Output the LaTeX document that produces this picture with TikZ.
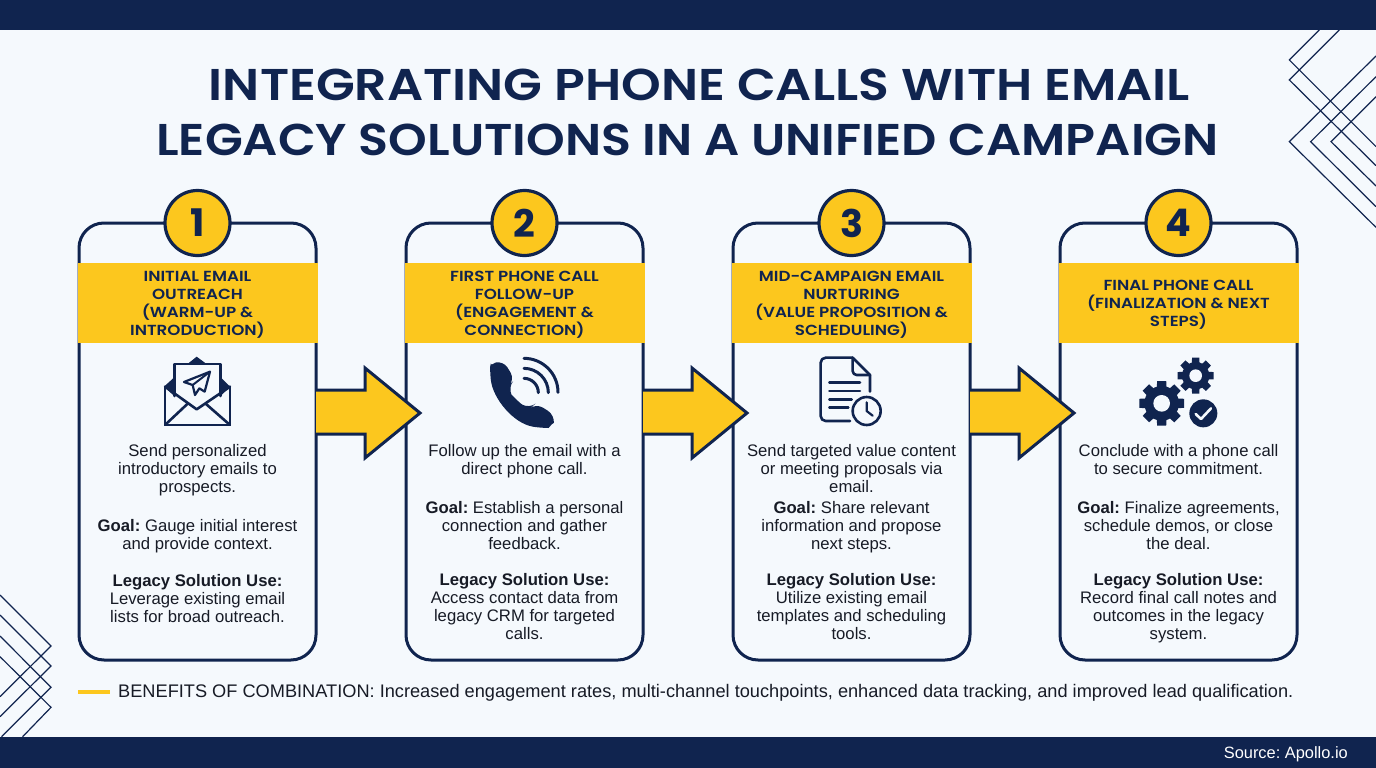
\documentclass[tikz,border=0pt]{standalone}
\usepackage{fontspec}
\usetikzlibrary{calc}
\setmainfont{Liberation Sans}
\newfontfamily\headfont[FakeStretch=1.145]{Poppins SemiBold}
\newfontfamily\badgefont{Poppins}
\newfontfamily\titlefonta[FakeStretch=1.135]{Poppins SemiBold}
\newfontfamily\titlefontb[FakeStretch=1.106]{Poppins SemiBold}
\definecolor{navy}{HTML}{10244F}
\definecolor{amber}{HTML}{FCC71E}
\definecolor{paper}{HTML}{F5F9FD}
\definecolor{ink}{HTML}{171B26}
\frenchspacing
\newcommand{\flowarrow}[2]{%
  \fill[amber] ($(#1.east)+(0,-51.5)$) -- ($(#1.east)+(49,-51.5)$) -- ($(#1.east)+(49,-73.5)$) -- ($(#2.west)+(14,-28.5)$) -- ($(#1.east)+(49,16.5)$) -- ($(#1.east)+(49,-7.5)$) -- ($(#1.east)+(0,-7.5)$) -- cycle;
  \draw[navy,line width=3,line join=miter] ($(#1.east)+(0,-51.5)$) -- ($(#1.east)+(49,-51.5)$) -- ($(#1.east)+(49,-73.5)$) -- ($(#2.west)+(14,-28.5)$) -- ($(#1.east)+(49,16.5)$) -- ($(#1.east)+(49,-7.5)$) -- ($(#1.east)+(0,-7.5)$);
}
\newcommand{\gearshape}[5]{% x,y,body r,tooth outer r,tooth width
  \fill[navy] (#1,#2) circle (#3);
  \foreach \a in {0,45,...,315}{
    \fill[navy,shift={(#1,#2)},rotate=\a] (-#5/2,0) -- (-#5/2*0.8,-#4) -- (#5/2*0.8,-#4) -- (#5/2,0) -- cycle;
  }
}
\tikzset{
  cardbox/.style={draw=navy,line width=3,rounded corners=25,minimum width=237,minimum height=437,inner sep=0,outer sep=0},
  bandbox/.style={fill=amber,minimum width=240,minimum height=80,inner sep=0},
  headtext/.style={inner sep=0,align=center,text=navy,font=\headfont\fontsize{14.6}{18}\selectfont},
  badge/.style={circle,draw=navy,fill=amber,line width=3.2,minimum size=65,inner sep=0,text=navy,font=\badgefont\bfseries\fontsize{38}{40}\selectfont},
  para/.style={align=center,inner sep=0,text=ink,font=\fontsize{16.7}{18.2}\selectfont,execute at begin node=\strut,execute at end node=\strut},
  titleline/.style={inner sep=0,text=navy},
  deco/.style={navy,line width=1.2},
  icon/.style={navy,line width=2.6,line cap=round,line join=round},
}
\begin{document}
\begin{tikzpicture}[x=1pt,y=-1pt]
\useasboundingbox (0,0) rectangle (1376,768);
\fill[paper] (0,0) rectangle (1376,768);
\fill[navy] (0,0) rectangle (1376,30);
\fill[navy] (0,737) rectangle (1376,768);
% decoration top right
\begin{scope}[shift={(1270,20)},scale=0.33333]
\draw[deco] (148,30) -- (58,120) -- (318,380);
\draw[deco] (208,30) -- (58,180) -- (318,437);
\draw[deco] (318,108) -- (58,365) -- (318,622);
\draw[deco] (318,170) -- (122,365) -- (318,560);
\draw[deco] (318,230) -- (183,365) -- (318,498);
\end{scope}
% decoration bottom left
\begin{scope}[shift={(0,580)},scale=0.33333]
\draw[deco] (0,45) -- (153,198) -- (0,350);
\draw[deco] (0,105) -- (153,258) -- (0,410);
\draw[deco] (0,168) -- (153,322) -- (5,470);
\draw[deco] (0,230) -- (153,382) -- (68,470);
\end{scope}
% title
\node[titleline,font=\titlefonta\fontsize{44.5}{50}\selectfont] (t1) at (699.5,85) {INTEGRATING PHONE CALLS WITH EMAIL};
\node[titleline,font=\titlefontb\fontsize{44.5}{50}\selectfont] (t2) at (687.5,140) {LEGACY SOLUTIONS IN A UNIFIED CAMPAIGN};
% cards
\node[cardbox] (c1) at (197.5,441.5) {};
\node[cardbox] (c2) at (524.5,441.5) {};
\node[cardbox] (c3) at (851.5,441.5) {};
\node[cardbox] (c4) at (1178.5,441.5) {};
\node[bandbox] (h1) at (197.5,303) {};
\node[bandbox] (h2) at (524.5,303) {};
\node[bandbox] (h3) at (851.5,303) {};
\node[bandbox] (h4) at (1178.5,303) {};
\node[headtext] (ht1) at (197.5,305) {INITIAL EMAIL\\OUTREACH\\(WARM-UP \&\\INTRODUCTION)};
\node[headtext] (ht2) at (524.5,305) {FIRST PHONE CALL\\FOLLOW-UP\\(ENGAGEMENT \&\\CONNECTION)};
\node[headtext] (ht3) at (851.5,305) {MID-CAMPAIGN EMAIL\\NURTURING\\(VALUE PROPOSITION \&\\SCHEDULING)};
\node[headtext] (ht4) at (1178.5,305) {FINAL PHONE CALL\\(FINALIZATION \& NEXT\\STEPS)};
\node[badge] (b1) at (197.5,223) {1};
\node[badge] (b2) at (524.5,223) {2};
\node[badge] (b3) at (851.5,223) {3};
\node[badge] (b4) at (1178.5,223) {4};
% body text
\node[para] (p11) at (197.5,471) {Send personalized\\introductory emails to\\prospects.};
\node[para] (p12) at (197.5,537) {\textbf{Goal:} Gauge initial interest\\and provide context.};
\node[para] (p13) at (197.5,601) {\textbf{Legacy Solution Use:}\\Leverage existing email\\lists for broad outreach.};
\node[para] (p21) at (524.5,462) {Follow up the email with a\\direct phone call.};
\node[para] (p22) at (524.5,528) {\textbf{Goal:} Establish a personal\\connection and gather\\feedback.};
\node[para] (p23) at (524.5,609) {\textbf{Legacy Solution Use:}\\Access contact data from\\legacy CRM for targeted\\calls.};
\node[para] (p31) at (851.5,471) {Send targeted value content\\or meeting proposals via\\email.};
\node[para] (p32) at (851.5,528) {\textbf{Goal:} Share relevant\\information and propose\\next steps.};
\node[para] (p33) at (851.5,609) {\textbf{Legacy Solution Use:}\\Utilize existing email\\templates and scheduling\\tools.};
\node[para] (p41) at (1178.5,462) {Conclude with a phone call\\to secure commitment.};
\node[para] (p42) at (1178.5,528) {\textbf{Goal:} Finalize agreements,\\schedule demos, or close\\the deal.};
\node[para] (p43) at (1178.5,609) {\textbf{Legacy Solution Use:}\\Record final call notes and\\outcomes in the legacy\\system.};
% arrows
\flowarrow{c1}{c2}
\flowarrow{c2}{c3}
\flowarrow{c3}{c4}
% mail icon
\begin{scope}[shift={(60,180)},scale=0.33333]
\fill[navy] (312,620) -- (345,590) -- (345,650) -- cycle;
\fill[navy] (510,620) -- (480,590) -- (480,650) -- cycle;
\fill[navy] (385,550) -- (410,530) -- (437,550) -- cycle;
\draw[icon] (315,620) -- (315,735) -- (510,735) -- (510,620);
\draw[icon] (315,620) -- (410,688) -- (510,620);
\draw[icon] (315,735) -- (382,672);
\draw[icon] (510,735) -- (438,672);
\draw[icon] (343,648) -- (343,552) -- (482,552) -- (482,648);
\draw[navy,line width=2.2,line join=round] (450,575) -- (372,606) -- (398,615) -- (405,645) -- (418,625) -- (434,635) -- cycle;
\draw[navy,line width=2] (398,615) -- (450,575);
\end{scope}
% phone icon
\begin{scope}[shift={(470,340)},scale=0.33333]
\fill[navy,rounded corners=8] (60,95) .. controls (62,78) and (75,68) .. (100,62) -- (134,118) -- (114,142) .. controls (125,165) and (150,190) .. (178,206) -- (198,190) -- (254,225) .. controls (252,245) and (235,264) .. (212,264) .. controls (130,250) and (68,175) .. (60,95) -- cycle;
\draw[navy,line width=3,line cap=round] (162,115) arc (-90:0:43);
\draw[navy,line width=3,line cap=round] (162,85) arc (-90:0:73);
\draw[navy,line width=3,line cap=round] (162,55) arc (-90:0:102);
\end{scope}
% document icon
\begin{scope}[shift={(800,345)},scale=0.33333]
\draw[icon,rounded corners=5] (158,38) -- (62,38) -- (62,228) -- (150,228);
\draw[icon] (158,38) -- (210,90) -- (210,140);
\draw[icon,rounded corners=4] (158,38) -- (158,90) -- (210,90);
\draw[icon] (88,113) -- (180,113);
\draw[icon] (88,138) -- (180,138);
\draw[icon] (88,163) -- (155,163);
\draw[icon] (88,188) -- (145,188);
\draw[icon,fill=paper] (200,198) circle (42);
\draw[icon,line width=2.2] (200,172) -- (200,198) -- (218,212);
\end{scope}
% gears icon
\begin{scope}[shift={(1125,345)},scale=0.33333]
\gearshape{110}{175}{52}{67}{34}
\fill[paper] (110,175) circle (25);
\gearshape{212}{92}{41}{54}{27}
\fill[paper] (212,92) circle (19);
\fill[navy] (235,205) circle (42);
\draw[paper,line width=2.6,line cap=round,line join=round] (212,207) -- (228,222) -- (258,190);
\end{scope}
% footer
\coordinate (f1) at (78,692);
\coordinate (f2) at (110,692);
\draw[amber,line width=4] (f1) -- (f2);
\node[anchor=west,inner sep=0,text=ink,font=\fontsize{18.2}{20}\selectfont] (ben) at (118,692.5) {BENEFITS OF COMBINATION: Increased engagement rates, multi-channel touchpoints, enhanced data tracking, and improved lead qualification.};
\node[anchor=east,inner sep=0,text=white,font=\fontsize{16.4}{20}\selectfont] (src) at (1348,754) {Source: Apollo.io};
\end{tikzpicture}
\end{document}
